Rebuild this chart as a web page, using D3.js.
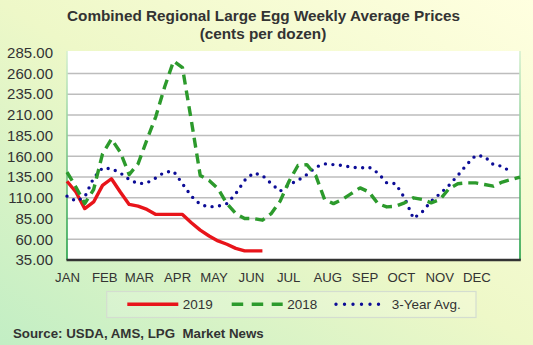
<!DOCTYPE html>
<html>
<head>
<meta charset="utf-8">
<script src="https://cdn.jsdelivr.net/npm/d3@7"></script>
<style>
  html, body { margin: 0; padding: 0; }
  svg { display: block; font-family: Arial, "Liberation Sans", sans-serif; }
</style>
</head>
<body>
<svg id="chart" width="533" height="345"></svg>
<script>
// ---- data ----
const months = ["JAN","FEB","MAR","APR","MAY","JUN","JUL","AUG","SEP","OCT","NOV","DEC"];
const monthWeek = [0, 4.2, 8.1, 12.4, 16.5, 20.7, 24.9, 29.3, 33.5, 37.6, 41.9, 46.1];
const yTicks = [35, 60, 85, 110, 135, 160, 185, 210, 235, 260, 285];

const price2019 = [130, 117, 97, 105, 125, 133, 117, 102, 100, 96, 90, 90, 90, 90, 80, 71, 64, 58, 54, 49, 46, 46, 46];

const price2018 = [141, 123, 103, 120, 163, 181, 165, 138, 151, 180, 208, 244, 275, 267, 203, 137,
                   131, 121, 103, 91, 85, 85, 83, 91, 106, 130, 149, 150, 137, 108, 103, 108,
                   115, 122, 117, 103, 99, 100, 104, 110, 108, 104, 108, 121, 127, 128, 128, 126,
                   124, 129, 132, 135];

const avg3yr = [112, 106, 111, 134, 146, 145, 140, 132, 127, 128, 134, 141, 142, 127, 112, 102,
                99, 100, 103, 115, 131, 140, 137, 127, 118, 126, 131, 138, 147, 151, 150, 149,
                147, 146, 147, 140, 128, 127, 110, 85, 93, 106, 115, 125, 137, 150, 161, 160,
                150, 148, 141];

const seriesNames = ["2019", "2018", "3-Year Avg."];

// ---- layout ----
const svg = d3.select("#chart");
const W = 533, H = 345;
const plot = {left: 67, right: 520, top: 51, bottom: 260};

const defs = svg.append("defs");
const bg = defs.append("linearGradient").attr("id", "bg")
  .attr("x1", "0").attr("y1", "1").attr("x2", "1").attr("y2", "0");
bg.append("stop").attr("offset", "0").attr("stop-color", "#c2eec4");
bg.append("stop").attr("offset", "0.5").attr("stop-color", "#eef8c8");
bg.append("stop").attr("offset", "1").attr("stop-color", "#ffffe0");

const edge = defs.append("linearGradient").attr("id", "edge")
  .attr("gradientUnits", "userSpaceOnUse")
  .attr("x1", 0).attr("y1", plot.top).attr("x2", 0).attr("y2", plot.bottom);
edge.append("stop").attr("offset", "0").attr("stop-color", "#d6f0d0");
edge.append("stop").attr("offset", "1").attr("stop-color", "#1f9e45");

svg.append("rect").attr("width", W).attr("height", H).attr("fill", "url(#bg)");

const x = d3.scaleLinear().domain([0, 51]).range([plot.left, plot.right]);
const y = d3.scaleLinear().domain([35, 285]).range([plot.bottom, 52.7]);

// plot background
svg.append("rect")
  .attr("x", plot.left).attr("y", plot.top)
  .attr("width", plot.right - plot.left).attr("height", plot.bottom - plot.top)
  .attr("fill", "#ffffff");

// gridlines
svg.append("g").selectAll("line")
  .data(yTicks.filter(d => d > 35 && d < 285))
  .join("line")
  .attr("x1", plot.left).attr("x2", plot.right)
  .attr("y1", d => y(d)).attr("y2", d => y(d))
  .attr("stroke", "#bdbdbd").attr("stroke-width", 1.5);

// side borders
svg.append("line").attr("x1", plot.left).attr("x2", plot.left)
  .attr("y1", plot.top).attr("y2", plot.bottom)
  .attr("stroke", "url(#edge)").attr("stroke-width", 1.6);
svg.append("line").attr("x1", plot.right).attr("x2", plot.right)
  .attr("y1", plot.top).attr("y2", plot.bottom)
  .attr("stroke", "url(#edge)").attr("stroke-width", 1.6);

// y axis
const yAxis = svg.append("g")
  .attr("transform", `translate(${plot.left},0)`)
  .call(d3.axisLeft(y).tickValues(yTicks).tickFormat(d3.format(".2f")).tickSize(0).tickPadding(14));
yAxis.select(".domain").remove();
yAxis.selectAll("text").attr("font-size", 15).attr("fill", "#333").attr("font-family", "Arial, 'Liberation Sans', sans-serif");

// x axis
const xAxis = svg.append("g")
  .attr("transform", `translate(0,${plot.bottom})`)
  .call(d3.axisBottom(x).tickValues(monthWeek).tickFormat((d, i) => months[i]).tickSize(0).tickPadding(12.5));
xAxis.select(".domain").remove();
xAxis.selectAll("text").attr("font-size", 13.2).attr("fill", "#333").attr("font-family", "Arial, 'Liberation Sans', sans-serif");

// bottom axis line
svg.append("line").attr("x1", plot.left - 0.5).attr("x2", plot.right + 0.8)
  .attr("y1", plot.bottom).attr("y2", plot.bottom)
  .attr("stroke", "#333").attr("stroke-width", 2.5);

// lines
const line = d3.line().x((d, i) => x(i)).y(d => y(d));

const styles = [
  {data: price2019, color: "#e8141a", width: 3.4, dash: null, cap: "butt"},
  {data: price2018, color: "#2c9a2c", width: 3.4, dash: "10,6", cap: "butt"},
  {data: avg3yr,    color: "#0c0c96", width: 3.4, dash: "0,7.5", cap: "round"}
];

// draw in order: 2019 under? reference shows 3-yr avg and 2018 over red near Jan
[styles[0], styles[2], styles[1]].forEach(s => {
  svg.append("path")
    .datum(s.data)
    .attr("d", line)
    .attr("fill", "none")
    .attr("stroke", s.color)
    .attr("stroke-width", s.width)
    .attr("stroke-linejoin", "round")
    .attr("stroke-linecap", s.cap)
    .attr("stroke-dasharray", s.dash);
});

// title
const title = svg.append("g").attr("font-weight", "bold").attr("fill", "#333")
  .attr("text-anchor", "middle");
title.append("text").attr("x", 263.5).attr("y", 20.7).attr("font-size", 15.3)
  .text("Combined Regional Large Egg Weekly Average Prices");
title.append("text").attr("x", 263).attr("y", 39).attr("font-size", 15.3)
  .text("(cents per dozen)");

// legend
svg.append("rect").attr("x", 106.7).attr("y", 291.5).attr("width", 369.3).attr("height", 26)
  .attr("fill", "rgba(255,255,255,0.18)").attr("stroke", "#d4ddd0").attr("stroke-width", 1.2);

const legendItems = [
  {name: seriesNames[0], s: styles[0], x1: 127.3, x2: 178.3, tx: 182.7},
  {name: seriesNames[1], s: styles[1], x1: 231.7, x2: 282.7, tx: 287.3},
  {name: seriesNames[2], s: styles[2], x1: 336, x2: 387, tx: 391.7}
];
legendItems.forEach(it => {
  svg.append("line").attr("x1", it.x1).attr("x2", it.x2).attr("y1", 304.3).attr("y2", 304.3)
    .attr("stroke", it.s.color).attr("stroke-width", it.s.width)
    .attr("stroke-linecap", it.s.cap)
    .attr("stroke-dasharray", it.s.dash === "10,6" ? "11.5,8.5" : (it.s.dash ? "0,8.5" : null));
  svg.append("text").attr("x", it.tx).attr("y", 309.2).attr("font-size", 13.5)
    .attr("fill", "#333").text(it.name);
});

// source
svg.append("text").attr("x", 13).attr("y", 338.3)
  .attr("font-size", 13.3).attr("font-weight", "bold").attr("fill", "#333")
  .style("white-space", "pre")
  .text("Source: USDA, AMS, LPG  Market News");
</script>
</body>
</html>
